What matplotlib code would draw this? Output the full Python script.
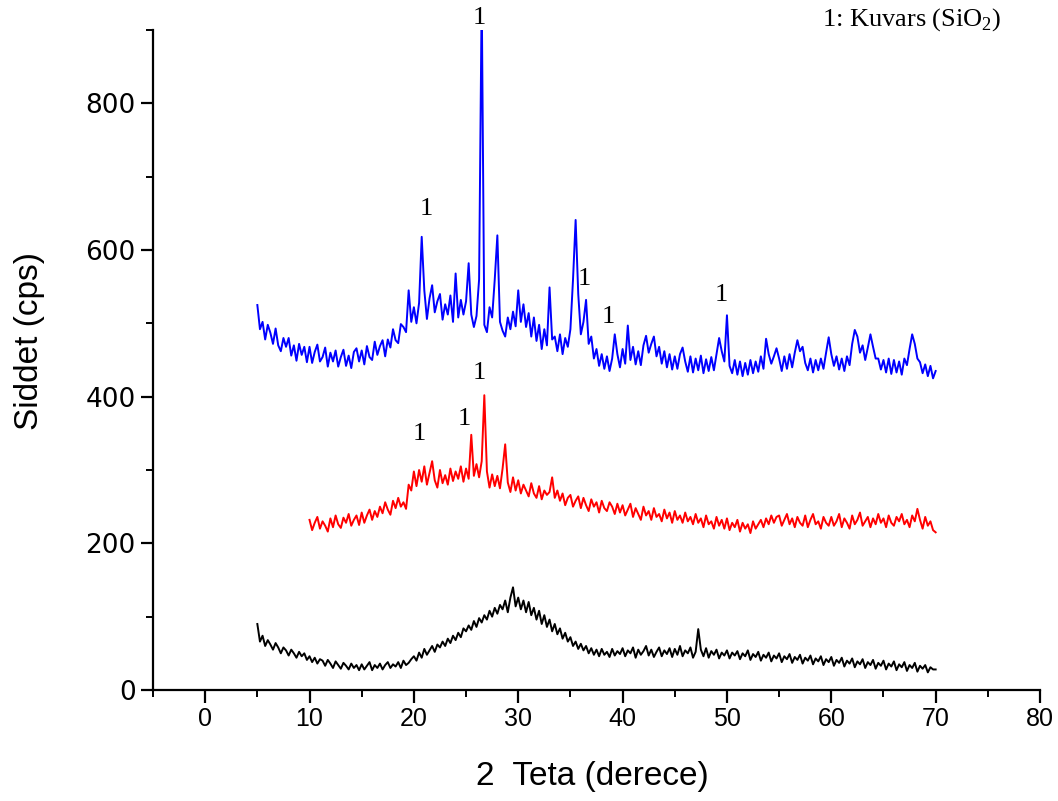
import numpy as np
import matplotlib
matplotlib.use("Agg")
import matplotlib.pyplot as plt

plt.rcParams['font.family'] = ['Liberation Sans', 'DejaVu Sans']
plt.rcParams['mathtext.fontset'] = 'custom'
plt.rcParams['mathtext.rm'] = 'Liberation Serif'

# 2-teta grid, 0.25 derece adim
x_blue = np.arange(5.0, 70.01, 0.25)
x_red = np.arange(10.0, 70.01, 0.25)
x_black = np.arange(5.0, 70.01, 0.25)

blue = [
    525, 492, 502, 478, 498, 487, 472, 493, 470, 462, 480, 468, 480, 456, 470, 449, 472, 457, 468, 447,
    468, 446, 461, 471, 448, 454, 467, 441, 460, 448, 463, 441, 454, 464, 442, 456, 439, 461, 466, 448,
    463, 444, 469, 454, 450, 475, 457, 469, 477, 455, 478, 467, 492, 477, 473, 499, 495, 488, 545, 502,
    522, 500, 528, 618, 545, 506, 534, 552, 515, 530, 540, 505, 526, 512, 538, 502, 568, 508, 532, 512,
    530, 582, 512, 495, 510, 560, 950, 498, 488, 522, 508, 560, 620, 502, 490, 482, 508, 492, 516, 496,
    545, 502, 526, 495, 514, 482, 508, 476, 498, 465, 492, 470, 549, 478, 482, 462, 485, 458, 480, 468,
    492, 560, 641, 540, 485, 502, 532, 472, 482, 452, 465, 442, 458, 438, 455, 435, 452, 485, 458, 440,
    465, 445, 497, 450, 468, 444, 462, 443, 470, 483, 460, 472, 482, 455, 468, 445, 462, 440, 458, 437,
    455, 438, 458, 467, 448, 434, 455, 433, 452, 436, 456, 432, 451, 435, 454, 436, 458, 480, 462, 448,
    511, 442, 432, 450, 430, 448, 428, 446, 430, 450, 432, 448, 434, 455, 438, 479, 458, 445, 455, 466,
    452, 435, 455, 438, 458, 440, 460, 477, 462, 468, 446, 436, 452, 433, 450, 436, 452, 438, 460, 481,
    458, 442, 455, 437, 452, 435, 455, 443, 472, 491, 482, 460, 470, 450, 467, 485, 468, 452, 452, 437,
    450, 433, 452, 431, 450, 433, 448, 430, 452, 443, 465, 485, 472, 452, 447, 432, 444, 428, 442, 425,
    435,
]

red = [
    232, 218, 228, 236, 220, 230, 224, 216, 234, 222, 238, 226, 221, 235, 228, 240, 224, 232, 238, 225,
    242, 228, 238, 246, 232, 244, 236, 250, 241, 256, 246, 239, 258, 248, 262, 250, 256, 247, 280, 272,
    298, 278, 300, 284, 305, 280, 296, 312, 286, 276, 300, 282, 293, 280, 302, 285, 298, 288, 305, 284,
    302, 288, 348, 292, 308, 290, 312, 402, 298, 276, 294, 278, 292, 275, 302, 335, 283, 270, 290, 272,
    286, 268, 280, 272, 264, 282, 268, 262, 278, 260, 272, 266, 270, 290, 262, 272, 258, 268, 252, 262,
    266, 250, 258, 264, 248, 262, 252, 244, 260, 250, 256, 242, 258, 248, 244, 256, 250, 240, 254, 242,
    252, 238, 246, 254, 236, 248, 240, 232, 250, 238, 244, 232, 248, 236, 240, 230, 246, 234, 242, 228,
    244, 232, 238, 228, 242, 230, 236, 226, 240, 228, 234, 222, 238, 226, 230, 220, 236, 224, 232, 220,
    234, 218, 228, 222, 232, 216, 228, 220, 226, 214, 230, 220, 226, 232, 222, 234, 226, 238, 228, 236,
    238, 224, 232, 240, 226, 234, 222, 236, 228, 224, 238, 222, 232, 240, 226, 230, 220, 236, 228, 224,
    236, 224, 230, 240, 222, 234, 228, 220, 238, 226, 232, 242, 224, 230, 236, 222, 234, 226, 240, 228,
    234, 222, 238, 228, 224, 236, 230, 240, 226, 232, 222, 238, 230, 247, 232, 220, 236, 224, 230, 218,
    215,
]

black = [
    90, 66, 74, 60, 68, 62, 55, 64, 58, 50, 58, 54, 47, 55, 50, 44, 52, 46, 50, 41,
    46, 38, 44, 36, 42, 40, 33, 41, 36, 30, 39, 34, 29, 37, 33, 28, 36, 30, 34, 27,
    35, 28, 33, 38, 27, 34, 30, 36, 28, 34, 38, 30, 35, 32, 38, 30, 40, 34, 37, 42,
    46, 40, 51, 44, 56, 48, 54, 60, 52, 62, 58, 66, 60, 70, 64, 74, 68, 78, 72, 84,
    80, 88, 82, 94, 86, 98, 92, 102, 96, 108, 100, 112, 104, 116, 110, 122, 106, 126, 140, 114,
    126, 110, 122, 106, 120, 102, 112, 96, 108, 90, 102, 86, 96, 80, 90, 76, 84, 70, 78, 66,
    72, 60, 66, 56, 63, 54, 60, 50, 57, 48, 55, 46, 56, 48, 52, 45, 56, 47, 53, 49,
    57, 46, 54, 50, 58, 44, 55, 48, 53, 60, 47, 55, 45, 52, 58, 46, 54, 49, 57, 45,
    56, 48, 60, 46, 54, 50, 58, 44, 52, 83, 55, 46, 57, 44, 53, 48, 55, 43, 51, 47,
    54, 43, 51, 47, 53, 42, 50, 46, 54, 41, 49, 45, 52, 40, 48, 44, 51, 39, 47, 43,
    50, 38, 46, 42, 49, 37, 45, 41, 48, 36, 44, 40, 47, 35, 43, 39, 46, 34, 42, 38,
    45, 33, 41, 37, 44, 32, 40, 36, 43, 31, 39, 35, 42, 30, 38, 34, 41, 29, 37, 33,
    40, 28, 36, 32, 39, 27, 35, 31, 38, 26, 34, 30, 37, 25, 33, 29, 34, 24, 31, 28,
    28,
]

# pik etiketleri (2-teta, siddet)
blue_lbl_x = [26.3, 21.2, 36.3, 38.6, 49.5]
blue_lbl_y = [917, 656, 560, 508, 539]
red_lbl_x = [20.5, 24.8, 26.3]
red_lbl_y = [349, 369, 432]

fig = plt.figure(figsize=(10.58, 8.01), dpi=100)
ax = fig.add_axes([0.1446, 0.1386, 0.8384, 0.8239])

ax.plot(x_black, black, color='black', lw=1.4)
ax.plot(x_red, red, color='red', lw=1.4)
ax.plot(x_blue, blue, color='blue', lw=1.4)

for xx, yy in zip(blue_lbl_x + red_lbl_x, blue_lbl_y + red_lbl_y):
    ax.text(xx, yy, '1', fontsize=19, family='Liberation Serif',
            ha='center', va='center', clip_on=False)

ax.set_xlim(-5, 80)
ax.set_ylim(0, 900)
ax.set_xticks(range(0, 81, 10))
ax.set_xticks(range(-5, 81, 5), minor=True)
ax.set_yticks(range(0, 801, 200))
ax.set_yticks(range(0, 901, 100), minor=True)

for s in ['top', 'right']:
    ax.spines[s].set_visible(False)
for s in ['left', 'bottom']:
    ax.spines[s].set_linewidth(1.6)

ax.tick_params(which='major', direction='out', length=9, width=1.6)
ax.tick_params(which='minor', direction='out', length=5, width=1.4)
for lb in ax.get_xticklabels():
    lb.set_fontsize(18)
for lb in ax.get_yticklabels():
    lb.set_family('DejaVu Sans')
    lb.set_fontsize(19)

ax.set_xlabel('2  Teta (derece)', fontsize=24)
ax.set_ylabel('Siddet (cps)', fontsize=24)
ax.xaxis.set_label_coords(0.495, -0.108)
ax.yaxis.set_label_coords(-0.122, 0.529)

fig.text(0.862, 0.975, r'1: Kuvars (SiO$_{\mathrm{2}}$)', fontsize=19,
         family='Liberation Serif', ha='center', va='center')

fig.savefig('out.png', dpi=100)
